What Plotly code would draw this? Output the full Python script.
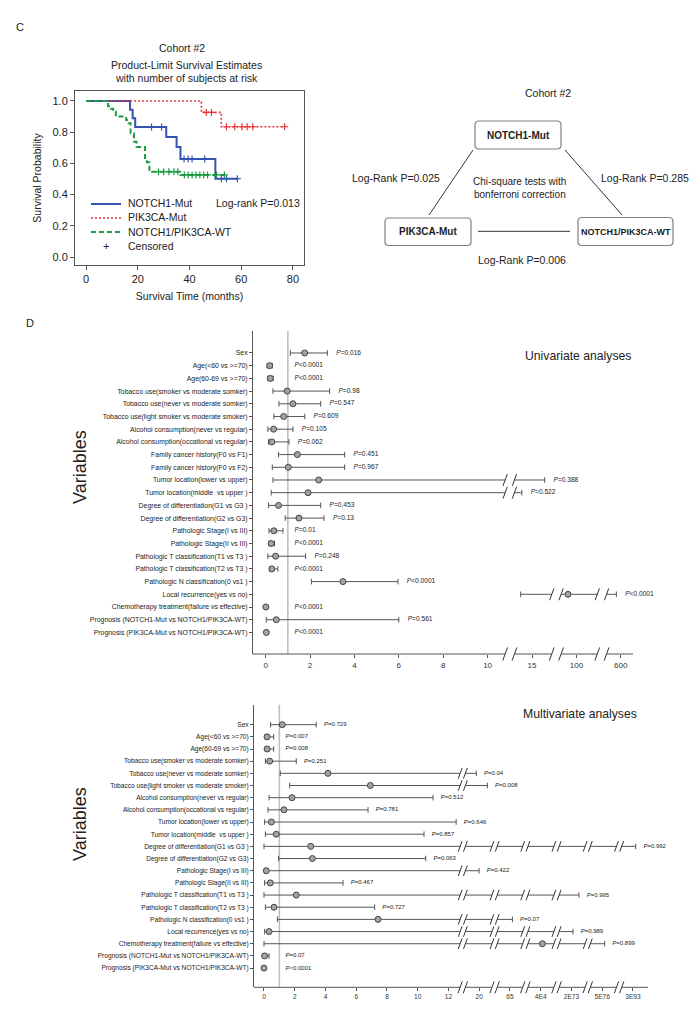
import plotly.graph_objects as go

W, H = 700, 1018
FONT = "Arial, 'Liberation Sans', Helvetica, sans-serif"


def fx(px):
    return px / W


def fy(py):
    return 1 - py / H


# ---------------- Kaplan-Meier data (panel C) ----------------
km_notch_t = [0, 17, 18, 19, 31, 35, 36.5, 50, 58.5]
km_notch_s = [1.0, 0.944, 0.889, 0.833, 0.769, 0.705, 0.628, 0.502, 0.502]
km_notch_cens = [25.3, 29.2, 37.9, 39.5, 41, 45.9, 52.3, 54.3, 58.5]

km_pik_t = [0, 44.6, 52.3, 76.8]
km_pik_s = [1.0, 0.927, 0.835, 0.835]
km_pik_cens = [46.5, 48.5, 54.3, 57.5, 60.3, 62.3, 64.5, 76.8]

km_wt_t = [0, 8.5, 9.5, 10.5, 11.5, 15.5, 16.5, 17.2, 18.5, 19.5, 22.8, 23.5, 24.5, 25.5, 36.5, 53.5]
km_wt_s = [1.0, 0.967, 0.950, 0.933, 0.900, 0.878, 0.857, 0.793, 0.739, 0.705, 0.635, 0.607,
           0.558, 0.547, 0.526, 0.526]
km_wt_cens = [28, 30, 32, 34, 35.5, 38, 39.5, 41, 42.5, 44, 45.5, 47, 50.5, 53.5]

km_names = ["NOTCH1-Mut", "PIK3CA-Mut", "NOTCH1/PIK3CA-WT"]
km_logrank = "Log-rank P=0.013"

# ---------------- Forest data (panel D) ----------------
# values are positions on the (broken) HR axis
uni_labels = [
    "Sex", "Age(&lt;60 vs >=70)", "Age(60-69 vs >=70)",
    "Tobacco use(smoker vs moderate somker)", "Tobacco use(never vs moderate somker)",
    "Tobacco use(light smoker vs moderate smoker)", "Alcohol consumption(never vs regular)",
    "Alcohol consumption(occational vs regular)", "Family cancer history(F0 vs F1)",
    "Family cancer history(F0 vs F2)", "Tumor location(lower vs upper)",
    "Tumor location(middle  vs upper )", "Degree of differentiation(G1 vs G3 )",
    "Degree of differentiation(G2 vs G3)", "Pathologic Stage(I vs III)",
    "Pathologic Stage(II vs III)", "Pathologic T classification(T1 vs T3 )",
    "Pathologic T classification(T2 vs T3 )", "Pathologic N classification(0 vs1 )",
    "Local recurrence(yes vs no)", "Chemotherapy treatment(failure vs effective)",
    "Prognosis (NOTCH1-Mut vs NOTCH1/PIK3CA-WT)", "Prognosis (PIK3CA-Mut vs NOTCH1/PIK3CA-WT)",
]
uni_hr = [1.755, 0.18, 0.21, 0.97, 1.23, 0.81, 0.36, 0.28, 1.43, 1.02, 2.39, 1.91, 0.58, 1.50,
          0.37, 0.25, 0.45, 0.28, 3.48, 13.62, 0.01, 0.48, 0.03]
uni_lo = [1.11, 0.07, 0.10, 0.33, 0.60, 0.37, 0.10, 0.13, 0.58, 0.30, 0.33, 0.25, 0.13, 0.88,
          0.15, 0.15, 0.10, 0.18, 2.06, 11.49, 0.0, 0.03, 0.0]
uni_hi = [2.78, 0.30, 0.34, 2.88, 2.48, 1.76, 1.23, 1.05, 3.56, 3.56, 12.57, 11.54, 2.48, 2.63,
          0.78, 0.40, 1.80, 0.55, 5.96, 15.80, 0.04, 6.00, 0.08]
uni_p = ["=0.016", "<0.0001", "<0.0001", "=0.98", "=0.547", "=0.609", "=0.105", "=0.062",
         "=0.451", "=0.967", "=0.388", "=0.522", "=0.453", "=0.13", "=0.01", "<0.0001",
         "=0.248", "<0.0001", "<0.0001", "<0.0001", "<0.0001", "=0.561", "<0.0001"]
uni_tickvals = [0, 2, 4, 6, 8, 10, 12, 14, 16]
uni_ticktext = ["0", "2", "4", "6", "8", "10", "15", "100", "600"]
uni_breaks = [11.0, 13.1, 15.15]

multi_labels = [
    "Sex", "Age(&lt;60 vs >=70)", "Age(60-69 vs >=70)",
    "Tobacco use(smoker vs moderate somker)", "Tobacco use(never vs moderate somker)",
    "Tobacco use(light smoker vs moderate smoker)", "Alcohol consumption(never vs regular)",
    "Alcohol consumption(occational vs regular)", "Tumor location(lower vs upper)",
    "Tumor location(middle  vs upper )", "Degree of differentiation(G1 vs G3 )",
    "Degree of differentiation(G2 vs G3)", "Pathologic Stage(I vs III)",
    "Pathologic Stage(II vs III)", "Pathologic T classification(T1 vs T3 )",
    "Pathologic T classification(T2 vs T3 )", "Pathologic N classification(0 vs1 )",
    "Local recurrence(yes vs no)", "Chemotherapy treatment(failure vs effective)",
    "Prognosis (NOTCH1-Mut vs NOTCH1/PIK3CA-WT)", "Prognosis (PIK3CA-Mut vs NOTCH1/PIK3CA-WT)",
]
multi_hr = [1.19, 0.20, 0.20, 0.37, 4.16, 6.92, 1.82, 1.30, 0.48, 0.80, 3.04, 3.15, 0.15, 0.41,
            2.10, 0.65, 7.42, 0.33, 18.11, 0.04, 0.0]
multi_lo = [0.43, 0.09, 0.09, 0.09, 1.06, 1.67, 0.33, 0.26, 0.04, 0.09, 0.0, 0.95, 0.04, 0.04,
            0.0, 0.09, 0.87, 0.04, 0.0, 0.0, 0.0]
multi_hi = [3.40, 0.63, 0.63, 2.10, 13.81, 14.53, 11.0, 6.77, 12.50, 10.41, 24.18, 10.52, 13.99,
            5.14, 20.49, 7.20, 16.16, 20.10, 22.16, 0.33, 0.03]
multi_p = ["=0.729", "=0.007", "=0.008", "=0.251", "=0.04", "=0.008", "=0.512", "=0.781",
           "=0.646", "=0.857", "=0.992", "=0.063", "=0.422", "=0.467", "=0.995", "=0.727",
           "=0.07", "=0.989", "=0.899", "=0.07", "<0.0001"]
multi_tickvals = [0, 2, 4, 6, 8, 10, 12, 14, 16, 18, 20, 22, 24]
multi_ticktext = ["0", "2", "4", "6", "8", "10", "12", "20", "65", "4E4", "2E73", "5E76", "3E93"]
multi_breaks = [12.93, 15.0, 17.0, 19.03, 21.06, 23.1]

fig = go.Figure()
shapes = []
annotations = []


def ann(text, x, y, size, xanchor="center", color="#222", angle=0, bold=False):
    annotations.append(dict(
        text=f"<b>{text}</b>" if bold else text, x=fx(x), y=fy(y), xref="paper", yref="paper",
        showarrow=False, xanchor=xanchor, yanchor="middle", textangle=angle,
        font=dict(family=FONT, size=size, color=color)))


# ---------------- KM curves ----------------
def step_value(ts, ss, t):
    v = ss[0]
    for ti, si in zip(ts, ss):
        if ti <= t:
            v = si
    return v


km_colors = ["#3553b3", "#e5333b", "#1f9a45"]
km_dash = ["solid", "2px,2px", "5px,3px"]
km_width = [2, 1.6, 2]
km_data = [(km_notch_t, km_notch_s, km_notch_cens), (km_pik_t, km_pik_s, km_pik_cens),
           (km_wt_t, km_wt_s, km_wt_cens)]
for k, (t, s, c) in enumerate(km_data):
    fig.add_trace(go.Scatter(
        x=t, y=s, mode="lines", name=km_names[k], showlegend=False, xaxis="x", yaxis="y",
        line=dict(color=km_colors[k], dash=km_dash[k], width=km_width[k], shape="hv")))
    fig.add_trace(go.Scatter(
        x=c, y=[step_value(t, s, ci) for ci in c], mode="markers", showlegend=False,
        xaxis="x", yaxis="y", name=km_names[k] + " censored",
        marker=dict(symbol="cross-thin", size=5, line=dict(color=km_colors[k], width=1.2))))

# manual legend for KM
leg_y = [196, 210, 224]
for k in range(3):
    shapes.append(dict(type="line", xref="paper", yref="paper", x0=fx(83), x1=fx(113),
                       y0=fy(leg_y[k]), y1=fy(leg_y[k]),
                       line=dict(color=km_colors[k], dash=km_dash[k], width=km_width[k])))
    ann(km_names[k], 118, leg_y[k] - 0.5, 10.5, xanchor="left")
ann("+", 98, 238.5, 11, color="#222")
ann("Censored", 118, 238.5, 10.5, xanchor="left")
ann(km_logrank, 206, 194.5, 10.5, xanchor="left")

# KM titles
ann("C", 12, 19, 11)
ann("Cohort #2", 174, 40, 10.5)
ann("Product-Limit Survival Estimates", 178, 57, 10.5)
ann("with number of subjects at risk", 178, 70, 10.5)

# ---------------- Diagram (right of C) ----------------
def rrect(x0, y0, x1, y1, r=4):
    X, Y = fx, fy
    path = (f"M {X(x0 + r)} {Y(y0)} L {X(x1 - r)} {Y(y0)} Q {X(x1)} {Y(y0)} {X(x1)} {Y(y0 + r)} "
            f"L {X(x1)} {Y(y1 - r)} Q {X(x1)} {Y(y1)} {X(x1 - r)} {Y(y1)} L {X(x0 + r)} {Y(y1)} "
            f"Q {X(x0)} {Y(y1)} {X(x0)} {Y(y1 - r)} L {X(x0)} {Y(y0 + r)} "
            f"Q {X(x0)} {Y(y0)} {X(x0 + r)} {Y(y0)} Z")
    return dict(type="path", xref="paper", yref="paper", path=path,
                line=dict(color="#808080", width=1.2))


shapes.append(rrect(467, 113, 553, 141))
shapes.append(rrect(377, 210, 463, 237.5))
shapes.append(rrect(570, 209.5, 665, 237.5))
for (x0, y0, x1, y1) in [(465, 142, 421, 207), (557, 142, 614, 207), (470, 223.3, 562, 223.3)]:
    shapes.append(dict(type="line", xref="paper", yref="paper", x0=fx(x0), y0=fy(y0),
                       x1=fx(x1), y1=fy(y1), line=dict(color="#333", width=1)))
ann("Cohort #2", 540, 85, 10.5)
ann("NOTCH1-Mut", 510, 127, 10, bold=True)
ann("PIK3CA-Mut", 420, 224, 10, bold=True)
ann("NOTCH1/PIK3CA-WT", 617.5, 223.5, 9, bold=True)
ann("Log-Rank P=0.025", 388, 170, 10.5)
ann("Log-Rank P=0.285", 636.5, 170, 10.5)
ann("Chi-square tests with", 511.5, 173, 10)
ann("bonferroni correction", 511.5, 187, 10)
ann("Log-Rank P=0.006", 514, 251.5, 10.5)

# ---------------- Forest plots ----------------
def forest(ax, labels, hr, lo, hi, pv, breaks, bw, xr, yr, tickvals, ticktext,
           lab_size, tick_size, p_size, poff, dom_x, dom_y, slash_size):
    xa, ya = f"x{ax}", f"y{ax}"
    n = len(labels)
    rows = list(range(n))
    lx, ly, sx, sy = [], [], [], []
    for i in rows:
        start = lo[i]
        for c in breaks:
            if lo[i] < c < hi[i]:
                lx += [start, c - bw, None]
                ly += [i, i, None]
                sx += [c - bw, c + bw]
                sy += [i, i]
                start = c + bw
        lx += [start, hi[i], None]
        ly += [i, i, None]
    common = dict(xaxis=xa, yaxis=ya, showlegend=False, hoverinfo="skip", cliponaxis=False)
    fig.add_trace(go.Scatter(x=lx, y=ly, mode="lines", line=dict(color="#555", width=1), **common))
    fig.add_trace(go.Scatter(x=lo + hi, y=rows + rows, mode="markers",
                             marker=dict(symbol="line-ns", size=4, line=dict(color="#555", width=1)),
                             **common))
    fig.add_trace(go.Scatter(x=sx, y=sy, mode="markers",
                             marker=dict(symbol="line-ns", angle=20, size=slash_size,
                                         line=dict(color="#333", width=1)), **common))
    fig.add_trace(go.Scatter(x=hr, y=rows, mode="markers",
                             marker=dict(symbol="circle", size=6, color="#a3a3a3",
                                         line=dict(color="#444", width=1)), **common))
    fig.add_trace(go.Scatter(x=[max(h, 0.9) + poff for h in hi], y=rows, mode="text",
                             text=["<i>P</i>" + p.replace("<", "&lt;") for p in pv],
                             textposition="middle right",
                             textfont=dict(family=FONT, size=p_size, color="#222"), **common))
    # axis break slashes on the x axis line
    ax_sx = []
    for c in breaks:
        ax_sx += [c - bw, c + bw]
    fig.add_trace(go.Scatter(x=ax_sx, y=[yr[0]] * len(ax_sx), mode="markers",
                             marker=dict(symbol="line-ns", angle=20, size=slash_size + 1,
                                         line=dict(color="#333", width=1)), **common))
    # x axis baseline with gaps
    seg_start = xr[0]
    for c in breaks:
        shapes.append(dict(type="line", xref=xa, yref=f"{ya} domain", x0=seg_start, x1=c - bw,
                           y0=0, y1=0, line=dict(color="#555", width=1)))
        seg_start = c + bw
    shapes.append(dict(type="line", xref=xa, yref=f"{ya} domain", x0=seg_start, x1=xr[1],
                       y0=0, y1=0, line=dict(color="#555", width=1)))
    # reference line at HR = 1
    shapes.append(dict(type="line", xref=xa, yref=f"{ya} domain", x0=1, x1=1, y0=0, y1=1,
                       layer="below", line=dict(color="#bdbdbd", width=1.5)))
    fig.update_layout(**{
        f"xaxis{ax}": dict(domain=dom_x, anchor=ya, range=xr, showline=False, showgrid=False,
                           zeroline=False, ticks="outside", ticklen=3, tickcolor="#555",
                           tickvals=tickvals, ticktext=ticktext,
                           tickfont=dict(family=FONT, size=tick_size, color="#333")),
        f"yaxis{ax}": dict(domain=dom_y, anchor=xa, range=yr, showline=True, linecolor="#555",
                           linewidth=1, showgrid=False, zeroline=False, ticks="outside",
                           ticklen=3, tickcolor="#555", tickvals=rows, ticktext=labels,
                           tickfont=dict(family=FONT, size=lab_size, color="#222")),
    })


forest(2, uni_labels, uni_hr, uni_lo, uni_hi, uni_p, uni_breaks, 0.21,
       [-0.57, 16.55], [23.7, -1.73], uni_tickvals, uni_ticktext,
       6.9, 8, 6.6, 0.4, [fx(245), fx(625)], [fy(646), fy(323)], 9)
forest(3, multi_labels, multi_hr, multi_lo, multi_hi, multi_p, multi_breaks, 0.17,
       [-0.65, 24.98], [21.58, -1.64], multi_tickvals, multi_ticktext,
       6.6, 6.6, 6.0, 0.5, [fx(246), fx(640)], [fy(979.3), fy(696.7)], 8)

ann("D", 22, 315, 11)
ann("Univariate analyses", 570, 348, 12.2)
ann("Multivariate analyses", 572, 706, 12.2)
ann("Variables", 72, 459, 18, angle=-90)
ann("Variables", 72, 816, 18, angle=-90)

# ---------------- layout ----------------
fig.update_layout(
    width=W, height=H, autosize=False,
    margin=dict(l=0, r=0, t=0, b=0),
    paper_bgcolor="white", plot_bgcolor="white",
    showlegend=False,
    font=dict(family=FONT, color="#222"),
    xaxis=dict(domain=[fx(67), fx(296)], anchor="y", range=[-4.3, 84.3],
               tickvals=[0, 20, 40, 60, 80], showline=True, mirror=True, linecolor="#555",
               linewidth=1, ticks="outside", ticklen=4, tickcolor="#555", showgrid=False,
               zeroline=False, tickfont=dict(family=FONT, size=11, color="#222"),
               title=dict(text="Survival Time (months)", standoff=8,
                          font=dict(family=FONT, size=10.5, color="#222"))),
    yaxis=dict(domain=[fy(257), fy(83)], anchor="x", range=[-0.051, 1.064],
               tickvals=[0, 0.2, 0.4, 0.6, 0.8, 1.0], tickformat=".1f", showline=True,
               mirror=True, linecolor="#555", linewidth=1, ticks="outside", ticklen=4,
               tickcolor="#555", showgrid=False, zeroline=False,
               tickfont=dict(family=FONT, size=11, color="#222"),
               title=dict(text="Survival Probability", standoff=8,
                          font=dict(family=FONT, size=10.5, color="#222"))),
    shapes=shapes,
    annotations=annotations,
)

fig.write_html("out.html")
